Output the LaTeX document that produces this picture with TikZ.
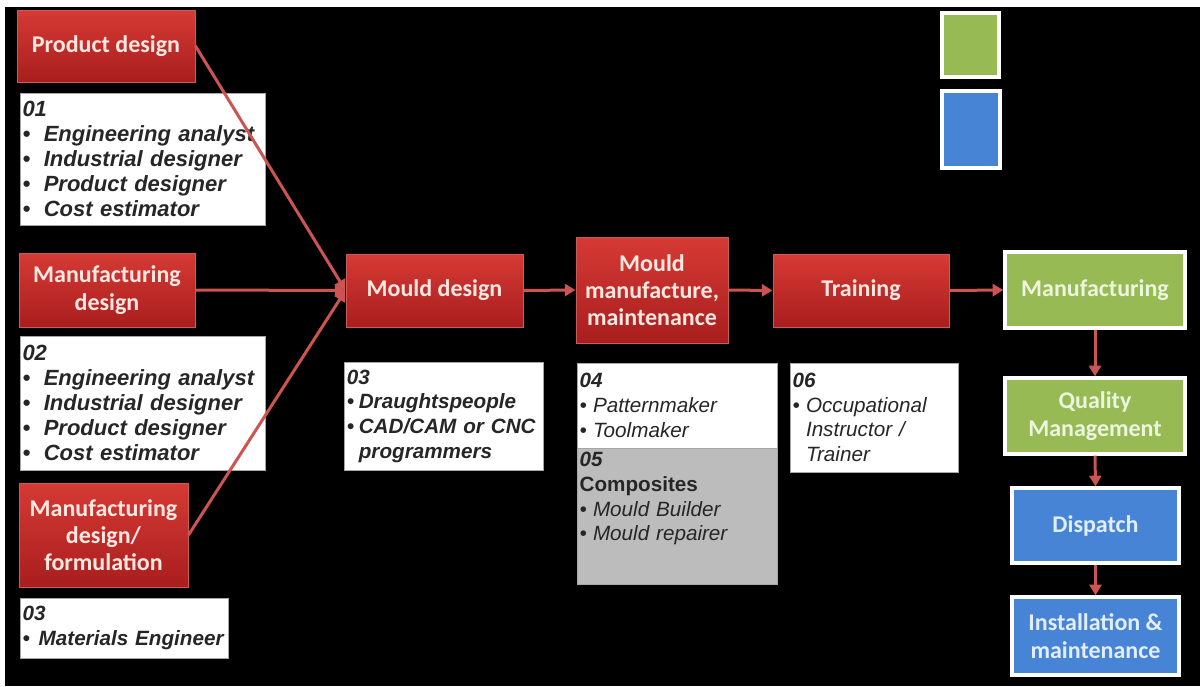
\documentclass[tikz,border=0pt]{standalone}
\usepackage{fontspec}
\setmainfont{Liberation Sans}
\newfontfamily\headfont{Carlito}
\usetikzlibrary{arrows.meta}

\definecolor{redtop}{RGB}{214,58,52}
\definecolor{redbot}{RGB}{168,30,30}
\definecolor{rededge}{RGB}{200,92,88}
\definecolor{headtext}{RGB}{255,232,226}
\definecolor{flowred}{RGB}{204,84,82}
\definecolor{okgreen}{RGB}{152,186,84}
\definecolor{okblue}{RGB}{72,132,214}
\definecolor{greentext}{RGB}{236,246,222}
\definecolor{bluetext}{RGB}{226,238,252}
\definecolor{panelgray}{RGB}{188,188,188}

% bullet items; \bulw is the width of the bullet column,
% \cont continues an item on a new line under its text
\newlength\bulw
\setlength\bulw{16pt}
\newcommand\itm[1]{\par\noindent\makebox[\bulw][l]{\textbullet}#1}
\newcommand\cont[1]{\par\noindent\hspace*{\bulw}#1}

\begin{document}
\begin{tikzpicture}[x=0.75pt,y=-0.75pt,
  sz/.style 2 args={minimum width={#1*0.75pt},minimum height={#2*0.75pt}},
  stage/.style={draw=rededge, line width=0.75pt, top color=redtop,
    bottom color=redbot, text=headtext, align=center, inner sep=2pt,
    font=\headfont\bfseries\fontsize{18}{20.5}\selectfont},
  greenstage/.style={draw=white, line width=2.5pt, fill=okgreen,
    text=greentext, align=center, inner sep=2pt,
    font=\headfont\bfseries\fontsize{18}{20.5}\selectfont},
  bluestage/.style={greenstage, fill=okblue, text=bluetext},
  keybox/.style={draw=white, line width=3pt},
  rolebox/.style={draw=black!35, line width=0.4pt, fill=white,
    text=black!85, align=left, inner xsep=2pt, inner ysep=2pt},
  flow/.style={draw=flowred, line width=2.25pt,
    -{Triangle[length=8pt,width=9pt]}}]

\useasboundingbox (0,0) rectangle (1200,686);
\fill[white] (0,0) rectangle (1200,686);
\fill[black] (5,7) rectangle (1200,686);

% colour key
\node[keybox, fill=okgreen, sz={57}{64}] (keygreen) at (970.5,45) {};
\node[keybox, fill=okblue, sz={58}{77}] (keyblue) at (971,129.5) {};

% design stages
\node[stage, sz={178}{72}] (pd) at (106,46) {Product design};
\node[stage, sz={176}{74}] (md) at (107,290) {Manufacturing\\design};
\node[stage, sz={169}{104}] (mf) at (103.5,535) {Manufacturing\\design/\\formulation};
\node[stage, sz={177}{73}] (mould) at (434.5,290.5) {Mould design};
\node[stage, sz={152}{106}] (mm) at (652,290) {Mould\\manufacture,\\maintenance};
\node[stage, sz={176}{73}] (tr) at (861,290.5) {Training};

% production stages
\node[greenstage, sz={180}{76}] (man) at (1095,290) {Manufacturing};
\node[greenstage, sz={180}{76}] (qm) at (1095,416) {Quality\\Management};
\node[bluestage, sz={167}{75}] (dis) at (1095.5,525.5) {Dispatch};
\node[bluestage, sz={167}{78}] (inst) at (1095.5,636) {Installation \&\\maintenance};

% occupations
\node[rolebox, sz={245}{132}, text width=180pt,
  font=\bfseries\itshape\fontsize{16.5}{18.75}\selectfont] (t01) at (142.5,159)
  {\setlength\bulw{16pt}01
   \itm{Engineering analyst}
   \itm{Industrial designer}
   \itm{Product designer}
   \itm{Cost estimator}};
\node[rolebox, sz={245}{134}, text width=180pt,
  font=\bfseries\itshape\fontsize{16.5}{18.75}\selectfont] (t02) at (142.5,403)
  {\setlength\bulw{16pt}02
   \itm{Engineering analyst}
   \itm{Industrial designer}
   \itm{Product designer}
   \itm{Cost estimator}};
\node[rolebox, sz={208}{60}, text width=152pt,
  font=\bfseries\itshape\fontsize{15.5}{18.5}\selectfont] (t03a) at (124,628)
  {\setlength\bulw{12pt}03
   \itm{Materials Engineer}};
\node[rolebox, sz={199}{108}, text width=145pt,
  font=\bfseries\itshape\fontsize{15.5}{18.5}\selectfont] (t03b) at (443.5,416)
  {\setlength\bulw{9pt}03
   \itm{Draughtspeople}
   \itm{CAD/CAM or CNC}
   \cont{programmers}};
\node[rolebox, sz={200}{85}, text width=146pt,
  font=\itshape\fontsize{15.5}{18.5}\selectfont] (t04) at (677,405.5)
  {\setlength\bulw{10pt}\textbf{04}
   \itm{Patternmaker}
   \itm{Toolmaker}};
\node[rolebox, fill=panelgray, sz={200}{136}, text width=146pt,
  font=\itshape\fontsize{15.5}{18.5}\selectfont] (t05) at (677,516)
  {\setlength\bulw{10pt}\textbf{05}\par
   \textbf{\upshape Composites}
   \itm{Mould Builder}
   \itm{Mould repairer}\par\vspace{26pt}};
\node[rolebox, sz={168}{109}, text width=122pt,
  font=\itshape\fontsize{15.5}{18.5}\selectfont] (t06) at (874,417.5)
  {\setlength\bulw{10pt}\textbf{06}
   \itm{Occupational}
   \cont{Instructor /}
   \cont{Trainer}};

% flow
\draw[flow] (pd.east) -- (mould.west);
\draw[flow] (md.east) -- (mould.west);
\draw[flow] (mf.east) -- (mould.west);
\draw[flow] (mould.east) -- (mm.west);
\draw[flow] (mm.east) -- (tr.west);
\draw[flow] (tr.east) -- (man.west);
\draw[flow] (man.south) -- (qm.north);
\draw[flow] (qm.south) -- (dis.north);
\draw[flow] (dis.south) -- (inst.north);
\end{tikzpicture}
\end{document}
